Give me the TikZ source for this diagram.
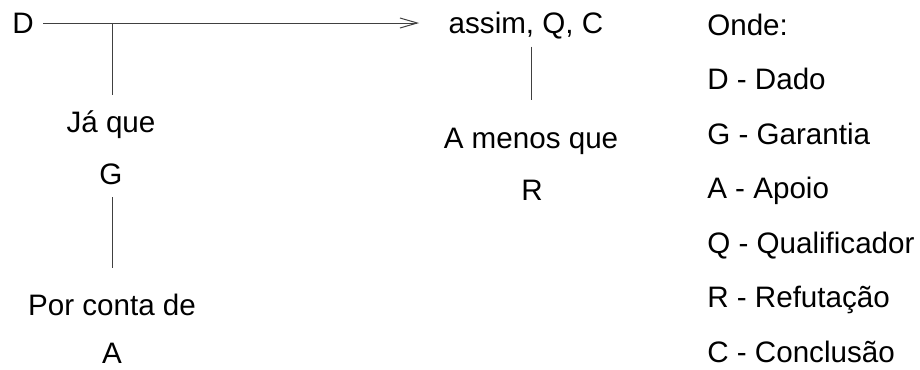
\documentclass[tikz,border=0pt]{standalone}
\usepackage{fontspec}
\setmainfont{Liberation Sans}
\usetikzlibrary{arrows.meta,positioning}

\begin{document}
\begin{tikzpicture}[x=0.75pt, y=-0.75pt, >={Straight Barb[length=13pt,width=7.5pt]},
	every node/.style={font=\fontsize{22.2pt}{26pt}\selectfont, inner sep=0pt,
		text height=16pt, text depth=0.5pt},
	liga/.style={draw=black!75, line width=0.75pt},
	legenda/.style={anchor=west}
	]
\useasboundingbox (0,0) rectangle (920,369);
% esquema de Toulmin
\node (D)      at (23,23)      {D};
\node (assim)  at (526,23)     {assim, Q, C};
\coordinate (juncao) at (112,23);
\node (jaque)  at (111,121.7)  {Já que};
\node (G)      at (111,173.7)  {G};
\node (porconta) at (112,304.7) {Por conta de};
\node (A)      at (112,353.5)  {A};
\node (amenos) at (531,137.7)  {A menos que};
\node (R)      at (532,189.7)  {R};
\path[liga]
(D.east |- juncao) edge [->, shorten <=7pt, shorten >=22pt] (assim.west |- juncao)
(juncao) edge [shorten >=11.8pt] (juncao |- jaque.north)
(juncao |- G.south) edge [shorten <=9.2pt, shorten >=19.3pt] (juncao |- porconta.north)
(assim.south -| amenos) edge [shorten <=9.2pt, shorten >=20pt] (amenos.north)
;
% legenda
\node[legenda] (onde) at (707,24.7)  {Onde:};
\node[legenda] (legD) at (707,79.2)  {D - Dado};
\node[legenda] (legG) at (707,133.7) {G - Garantia};
\node[legenda] (legA) at (707,188.2) {A - Apoio};
\node[legenda] (legQ) at (707,242.7) {Q - Qualificador};
\node[legenda] (legR) at (707,297.2) {R - Refutação};
\node[legenda] (legC) at (707,351.7) {C - Conclusão};
\end{tikzpicture}
\end{document}
